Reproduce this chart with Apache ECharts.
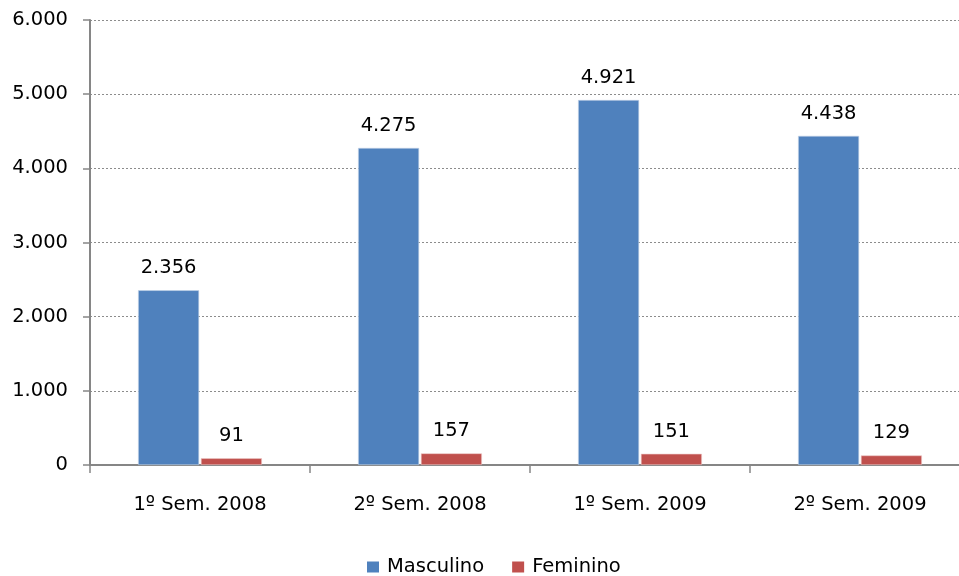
<!DOCTYPE html>
<html>
<head>
<meta charset="utf-8">
<script src="https://cdn.jsdelivr.net/npm/echarts@6/dist/echarts.min.js"></script>
<style>
  html, body { margin: 0; padding: 0; background: #fff; overflow: hidden; }
  #wrap { width: 959px; height: 576px; overflow: hidden; }
  #chart { width: 980px; height: 576px; }
</style>
</head>
<body>
<div id="wrap"><div id="chart"></div></div>
<script>
// Semesters shown on the category axis
const categories = ['1º Sem. 2008', '2º Sem. 2008', '1º Sem. 2009', '2º Sem. 2009'];
// Counts per semester, by sex
const masculino = [2356, 4275, 4921, 4438];
const feminino = [91, 157, 151, 129];
const seriesNames = ['Masculino', 'Feminino'];

// Thousands separator as a dot: 4921 -> "4.921"
function fmt(v) {
  return String(Math.round(v)).replace(/\B(?=(\d{3})+(?!\d))/g, '.');
}

const FONT = 'DejaVu Sans';
const FS = 19.5;

const chart = echarts.init(document.getElementById('chart'), null, { renderer: 'canvas' });

const labelStyle = {
  show: true,
  position: 'top',
  distance: 12,
  color: '#000',
  fontFamily: FONT,
  fontSize: FS,
  formatter: p => fmt(p.value)
};

chart.setOption({
  animation: false,
  backgroundColor: '#fff',
  grid: { left: 90, top: 20, width: 880, height: 445, containLabel: false },
  legend: {
    data: seriesNames,
    left: 367,
    top: 557,
    padding: 0,
    icon: 'rect',
    itemWidth: 12,
    itemHeight: 11,
    itemGap: 28,
    itemStyle: { borderWidth: 0 },
    textStyle: { fontFamily: FONT, fontSize: FS, color: '#000', padding: [0, 0, 0, 3] }
  },
  xAxis: {
    type: 'category',
    data: categories,
    axisLine: { lineStyle: { color: '#868686', width: 2 } },
    axisTick: { show: true, length: 8, lineStyle: { color: '#868686', width: 1.5 } },
    axisLabel: { color: '#000', fontFamily: FONT, fontSize: FS, margin: 30 }
  },
  yAxis: {
    type: 'value',
    min: 0,
    max: 6000,
    interval: 1000,
    axisLine: { show: true, lineStyle: { color: '#868686', width: 2 } },
    axisTick: { show: true, length: 7, lineStyle: { color: '#868686', width: 1.5 } },
    axisLabel: { color: '#000', fontFamily: FONT, fontSize: FS, margin: 22, formatter: v => fmt(v) },
    splitLine: { show: true, lineStyle: { color: '#8c8c8c', type: [2, 2], width: 1 } }
  },
  series: [
    {
      name: seriesNames[0],
      type: 'bar',
      data: masculino,
      barWidth: 61,
      barGap: '3%',
      itemStyle: { color: '#4F81BD', borderColor: '#c6d5ea', borderWidth: 0.6 },
      label: labelStyle
    },
    {
      name: seriesNames[1],
      type: 'bar',
      data: feminino,
      barWidth: 61,
      barGap: '3%',
      itemStyle: { color: '#C0504D', borderColor: '#ecc9c8', borderWidth: 0.6 },
      label: labelStyle
    }
  ]
});
</script>
</body>
</html>
